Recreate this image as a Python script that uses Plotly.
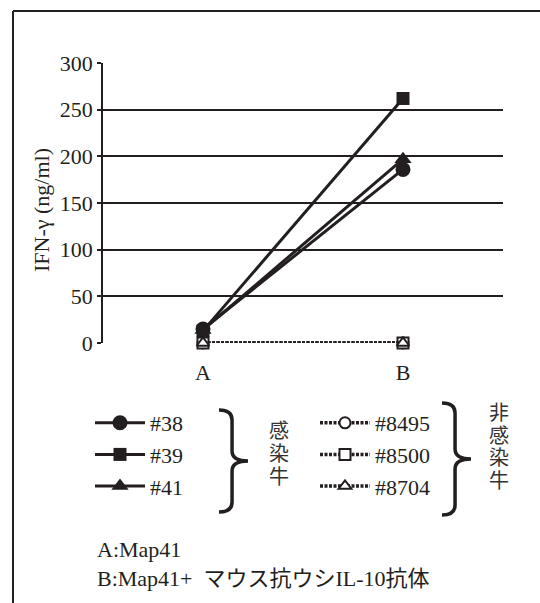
import plotly.graph_objects as go

categories = ["A", "B"]
infected_names = ["#38", "#39", "#41"]
infected_values = [[15, 186], [13, 262], [14, 197]]
infected_symbols = ["circle", "square", "triangle-up"]
control_names = ["#8495", "#8500", "#8704"]
control_values = [[0, 0], [0, 0], [0, 0]]
control_symbols = ["circle", "square", "triangle-up"]
y_ticks = [0, 50, 100, 150, 200, 250, 300]
group_infected = "感染牛"
group_control = "非感染牛"

W, H = 540, 603
# plot area in page pixels: x 103..503, y 63..343
L, T = 103, 63
R = W - 503
B = H - 343
PW, PH = W - L - R, H - T - B


def px(x):
    return (x - L) / PW


def py(y):
    return (H - B - y) / PH


SERIF = "Liberation Serif, Times New Roman, serif"
CJK = "Noto Sans CJK JP"
INK = "#231f20"

fig = go.Figure()
for name, vals, sym in zip(infected_names, infected_values, infected_symbols):
    fig.add_trace(go.Scatter(
        x=categories, y=vals, name=name, mode="lines+markers",
        line=dict(color=INK, width=3),
        marker=dict(symbol=sym, size=15 if sym != "square" else 13, color=INK),
        legend="legend", cliponaxis=False))
for name, vals, sym in zip(control_names, control_values, control_symbols):
    fig.add_trace(go.Scatter(
        x=categories, y=vals, name=name, mode="lines+markers",
        line=dict(color=INK, width=3.5, dash="3px,1.5px"),
        marker=dict(symbol=sym, size=11, color="white", line=dict(color=INK, width=2)),
        legend="legend2", cliponaxis=False))


def brace(x0, ytop, ybot, w):
    xm = x0 + w * 0.45
    xt = x0 + w
    ym = (ytop + ybot) / 2
    r = 10
    pts = [
        ("M", [(x0, ytop)]),
        ("Q", [(xm, ytop), (xm, ytop + r)]),
        ("L", [(xm, ym - r)]),
        ("Q", [(xm, ym), (xt, ym)]),
        ("Q", [(xm, ym), (xm, ym + r)]),
        ("L", [(xm, ybot - r)]),
        ("Q", [(xm, ybot), (x0, ybot)]),
    ]
    s = ""
    for cmd, ps in pts:
        s += cmd + " " + " ".join(f"{px(a):.5f},{py(b):.5f}" for a, b in ps) + " "
    return s.strip()


shapes = [
    dict(type="line", xref="paper", yref="paper", x0=px(13), y0=py(11), x1=px(W + 10), y1=py(11),
         line=dict(color=INK, width=2)),
    dict(type="line", xref="paper", yref="paper", x0=px(13), y0=py(11), x1=px(13), y1=py(H + 10),
         line=dict(color=INK, width=2)),
    dict(type="path", xref="paper", yref="paper", path=brace(219, 410, 512, 29),
         line=dict(color=INK, width=3.5)),
    dict(type="path", xref="paper", yref="paper", path=brace(442, 403, 515, 29),
         line=dict(color=INK, width=3.5)),
]


def ann(text, x, y, size, family, xanchor="center", color=INK, angle=0):
    return dict(text=text, xref="paper", yref="paper", x=px(x), y=py(y),
                xanchor=xanchor, yanchor="middle", showarrow=False, textangle=angle,
                align="center", font=dict(family=family, size=size, color=color))


annotations = [
    ann("IFN-γ (ng/ml)", 41, 210, 22, SERIF, angle=-90),
    ann("A:Map41", 95, 549, 22, SERIF + ", " + CJK, xanchor="left"),
    ann("B:Map41+  マウス抗ウシIL-10抗体", 95, 578, 22, SERIF + ", " + CJK, xanchor="left"),
]
# vertical (stacked) group labels, one character per line
for i, ch in enumerate(group_infected):
    annotations.append(ann(ch, 279, 431 + 23 * i, 20, SERIF + ", " + CJK, color="#333"))
for i, ch in enumerate(group_control):
    annotations.append(ann(ch, 499, 413 + 22.5 * i, 20, SERIF + ", " + CJK, color="#333"))

legend_common = dict(
    font=dict(family=SERIF, size=22, color=INK),
    bgcolor="rgba(0,0,0,0)", borderwidth=0, yanchor="top", xanchor="left",
    itemwidth=50, tracegroupgap=0, itemclick=False, itemdoubleclick=False,
)

fig.update_layout(
    width=W, height=H,
    margin=dict(l=L, r=R, t=T, b=B, autoexpand=False),
    paper_bgcolor="white", plot_bgcolor="white",
    showlegend=True,
    legend=dict(x=px(90), y=py(402), **legend_common),
    legend2=dict(x=px(315), y=py(402), **legend_common),
    xaxis=dict(
        type="category", range=[-0.5, 1.5], showgrid=False, zeroline=False,
        showline=False, ticks="", ticklabelstandoff=14,
        tickfont=dict(family=SERIF, size=22, color=INK),
    ),
    yaxis=dict(
        range=[0, 300], tickvals=y_ticks, showgrid=True, gridcolor=INK, gridwidth=1.5,
        zeroline=False, showline=True, linecolor=INK, linewidth=1.5,
        ticks="outside", ticklen=4, tickcolor=INK, tickwidth=1.5,
        tickfont=dict(family=SERIF, size=22, color=INK), automargin=False,
    ),
    shapes=shapes,
    annotations=annotations,
)

fig.write_html(
    "out.html",
    config={"displayModeBar": False},
    post_script="document.body.style.margin='0';document.body.style.overflow='hidden';",
)
